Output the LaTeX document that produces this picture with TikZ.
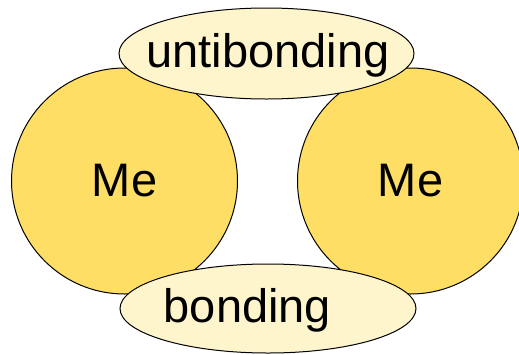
\documentclass[tikz,border=0pt]{standalone}
\usepackage{fontspec}
\setmainfont{Liberation Sans}
\usetikzlibrary{shapes.geometric}
\definecolor{atomfill}{HTML}{FFDE66}
\definecolor{ovalfill}{HTML}{FFF5CC}
\begin{document}
\begin{tikzpicture}[x=1pt,y=-1pt,
  atom/.style={circle,draw=black,line width=1pt,fill=atomfill,minimum size=226pt,inner sep=0pt,font=\fontsize{47}{56}\selectfont},
  oval/.style={ellipse,draw=black,line width=1pt,fill=ovalfill,inner sep=0pt},
  lbl/.style={inner sep=0pt,font=\fontsize{47}{56}\selectfont}]
\useasboundingbox (0,0) rectangle (519,354);
\node[atom] (meL) at (124.5,181) {Me};
\node[atom] (meR) at (410.5,181) {Me};
\node[oval,minimum width=295pt,minimum height=91pt] (anti) at (266.5,53.5) {};
\node[lbl] (antitxt) at (268,55) {untibonding};
\node[oval,minimum width=296pt,minimum height=89pt] (bond) at (268,308.5) {};
\node[lbl] (bondtxt) at (247.5,310) {bonding};
\end{tikzpicture}
\end{document}
